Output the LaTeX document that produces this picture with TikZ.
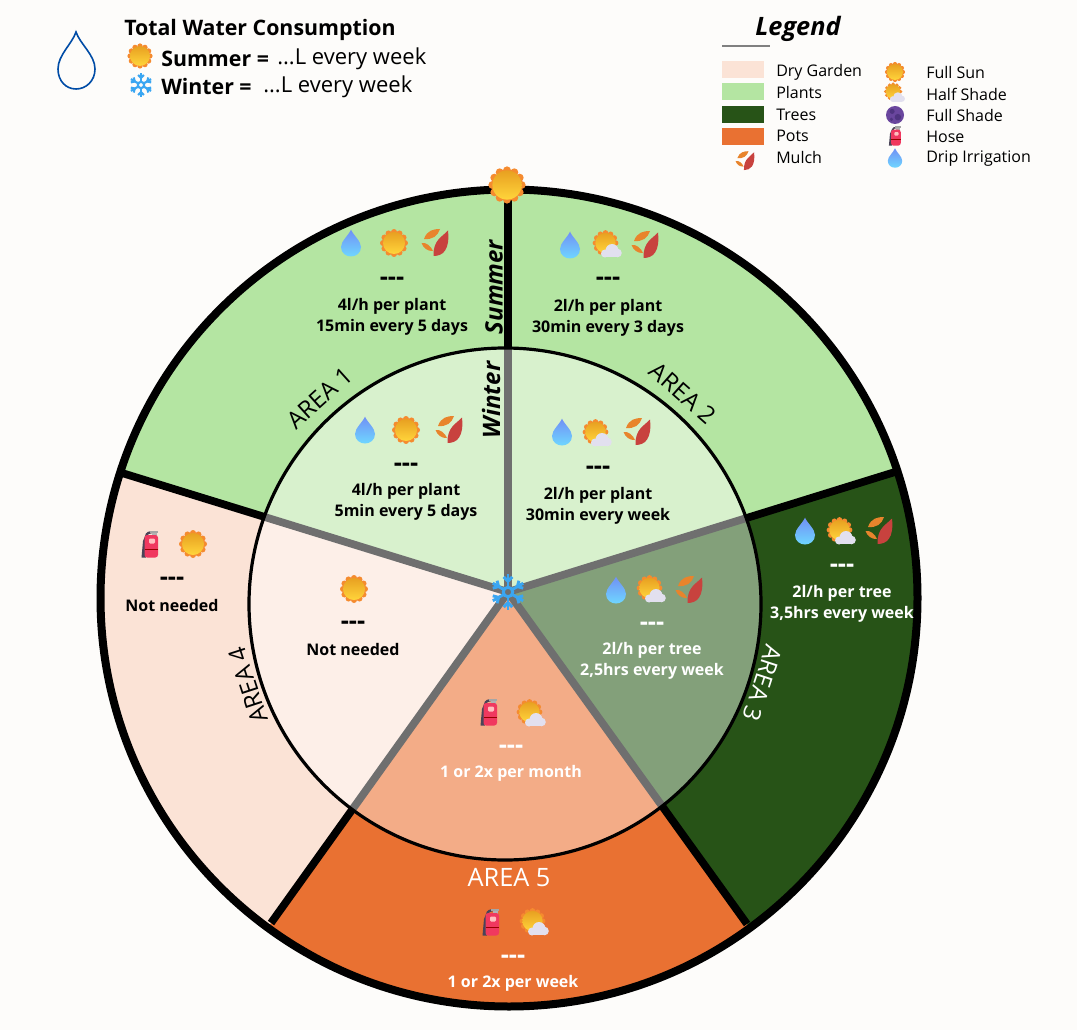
\documentclass[tikz,border=0pt]{standalone}
\usepackage{fontspec}
\setmainfont{Open Sans}
\definecolor{bgc}{HTML}{FDFCFA}
\definecolor{dry}{HTML}{FBE3D6}
\definecolor{plant}{HTML}{B4E5A2}
\definecolor{tree}{HTML}{275317}
\definecolor{pot}{HTML}{E97132}
\definecolor{dryin}{HTML}{FDEFE8}
\definecolor{plantin}{HTML}{D8F1CD}
\definecolor{treein}{HTML}{83A07A}
\definecolor{potin}{HTML}{F3AC87}
\definecolor{spokegrey}{HTML}{6F6F6F}
\definecolor{sunlobe}{HTML}{F58B2F}
\definecolor{suntop}{HTML}{FFD53B}
\definecolor{sunbot}{HTML}{E8A021}
\definecolor{flake}{HTML}{3AA6F2}
\definecolor{droptop}{HTML}{6FD6FF}
\definecolor{dropbot}{HTML}{7090F5}
\definecolor{cloudc}{HTML}{E2E0EF}
\definecolor{leafred}{HTML}{C8423E}
\definecolor{leaforange}{HTML}{E8842C}
\definecolor{hosered}{HTML}{F0385F}
\definecolor{hosedark}{HTML}{4A4458}
\definecolor{moon}{HTML}{6A469E}
\definecolor{moondark}{HTML}{4F3480}
\tikzset{
  info/.style={font=\fontsize{12}{14}\selectfont\bfseries,inner sep=0pt,align=center},
  dash3/.style={font=\fontsize{19}{19}\selectfont\bfseries,inner sep=0pt},
  arealabel/.style={font=\fontsize{18}{20}\selectfont,inner sep=0pt},
  seasonlabel/.style={font=\fontsize{18}{20}\selectfont\bfseries\itshape,inner sep=0pt,rotate=90},
  legendtext/.style={font=\fontsize{12}{14}\selectfont,inner sep=0pt,anchor=west},
  swatch/.style={draw=none,minimum width=31pt,minimum height=13pt,inner sep=0pt,anchor=west},
  headtext/.style={font=\fontsize{16.5}{18}\selectfont,inner sep=0pt,anchor=west},
  headbold/.style={font=\fontsize{16}{18}\selectfont\bfseries,inner sep=0pt,anchor=west},
  blackspoke/.style={line width=5.8pt,black},
  greyspoke/.style={line width=5.8pt,spokegrey},
  sunicon/.pic={
    \foreach \a in {0,30,...,330}{\fill[sunlobe] (\a:11) circle[radius=3];}
    \shade[top color=sunbot,bottom color=suntop] (0,0) circle[radius=11];
  },
  halficon/.pic={
    \begin{scope}[shift={(-2.5,-2)},scale=.92]
    \foreach \a in {0,30,...,330}{\fill[sunlobe] (\a:11) circle[radius=3];}
    \shade[top color=sunbot,bottom color=suntop] (0,0) circle[radius=11];
    \end{scope}
    \fill[cloudc] (-3,8.5) circle[radius=4];
    \fill[cloudc] (4,5.5) circle[radius=6.5];
    \fill[cloudc] (9.5,8) circle[radius=4.3];
    \fill[cloudc] (-3,8.5) rectangle (9.5,12.3);
  },
  shadeicon/.pic={
    \fill[moon] (0,0) circle[radius=12.5];
    \fill[moondark] (-4,-5) circle[radius=3.5];
    \fill[moondark] (4,3) circle[radius=4.5];
    \fill[moondark] (-5,6) circle[radius=2.5];
  },
  dropicon/.pic={
    \shade[top color=dropbot,bottom color=droptop]
      (0,-13.5) .. controls (2,-8) and (10,-2) .. (10,4) .. controls (10,10) and (5,13.5) .. (0,13.5)
      .. controls (-5,13.5) and (-10,10) .. (-10,4) .. controls (-10,-2) and (-2,-8) .. (0,-13.5) -- cycle;
  },
  mulchicon/.pic={
    \fill[leafred] (13,-12.5) .. controls (7,-6) and (-2,-3) .. (-1.5,13) .. controls (8,13) and (15,7) .. (13,-12.5) -- cycle;
    \fill[leaforange] (-11,-4) .. controls (-8,-13) and (-1,-14) .. (5,-14) .. controls (3,-7) and (-3,-3) .. (-11,-4) -- cycle;
    \fill[leaforange] (-13.5,0) .. controls (-9,-1) and (-4,3) .. (-2,8) .. controls (-7,8.5) and (-12,5) .. (-13.5,0) -- cycle;
  },
  hoseicon/.pic={
    \fill[hosedark] (-8.5,13.5) -- (-4,13.5) -- (-4,-5) -- (-5,-8) -- (-7,-3) -- cycle;
    \fill[hosedark] (-5,-8) .. controls (-4.5,-12) and (-1,-13) .. (3,-13) -- (3,-11) .. controls (0,-11) and (-3,-10) .. (-3,-6) -- cycle;
    \fill[gray!70!white] (0,-13.5) rectangle (8,-11);
    \fill[gray!60!white] (2,-11) rectangle (7,-8);
    \fill[hosered,rounded corners=2pt] (-5.5,-9) rectangle (8,13.5);
    \fill[red!25!white,rounded corners=.8pt] (-1,-5.5) rectangle (5,-.5);
    \fill[red!60!black] (-5.5,4.5) rectangle (8,5.5);
  },
  flakeicon/.pic={
    \foreach \a in {30,90,...,330}{
      \draw[flake] (\a:3.5) -- (\a:13);
      \draw[flake] (\a:8) -- +(\a+45:4.5);
      \draw[flake] (\a:8) -- +(\a-45:4.5);
    }
    \draw[flake] (0,0) circle[radius=3.5];
  }
}
\begin{document}
\begin{tikzpicture}[x=0.75pt,y=-0.75pt]
\fill[bgc] (0,0) rectangle (1077,1030);
\useasboundingbox (0,0) rectangle (1077,1030);
% geometry
\coordinate (hub) at (508,592);
\coordinate (outerc) at (509,598);
\coordinate (innerc) at (505,604);
\coordinate (top) at (508,190);
\coordinate (jA) at (122,473);
\coordinate (jB) at (271,923);
\coordinate (jC) at (747,924);
\coordinate (jD) at (895,472);
\coordinate (iTop) at (508,348);
% outer sectors
\begin{scope}
\clip (outerc) circle[radius=408.5];
\fill[plant] (hub) -- (508,100) -- (-100,100) -- (-100,400) -- (jA) -- cycle;
\fill[plant] (hub) -- (508,100) -- (1200,100) -- (1200,374) -- (jD) -- cycle;
\fill[dry] (hub) -- (jA) -- (-100,400) -- (-100,1100) -- (200,1021) -- (jB) -- cycle;
\fill[pot] (hub) -- (jB) -- (200,1021) -- (200,1100) -- (810,1100) -- (810,1021) -- (jC) -- cycle;
\fill[tree] (hub) -- (jC) -- (810,1021) -- (1200,1100) -- (1200,374) -- (jD) -- cycle;
\end{scope}
\draw[blackspoke] (hub) -- (top);
\draw[blackspoke] (hub) -- (jA);
\draw[blackspoke] (hub) -- (jB);
\draw[blackspoke] (hub) -- (jC);
\draw[blackspoke] (hub) -- (jD);
% inner sectors
\begin{scope}
\clip (innerc) circle[radius=256];
\fill[plantin] (hub) -- (508,100) -- (-100,100) -- (-100,400) -- (jA) -- cycle;
\fill[plantin] (hub) -- (508,100) -- (1200,100) -- (1200,374) -- (jD) -- cycle;
\fill[dryin] (hub) -- (jA) -- (-100,400) -- (-100,1100) -- (200,1021) -- (jB) -- cycle;
\fill[potin] (hub) -- (jB) -- (200,1021) -- (200,1100) -- (810,1100) -- (810,1021) -- (jC) -- cycle;
\fill[treein] (hub) -- (jC) -- (810,1021) -- (1200,1100) -- (1200,374) -- (jD) -- cycle;
\draw[greyspoke] (hub) -- (iTop);
\draw[greyspoke] (hub) -- (jA);
\draw[greyspoke] (hub) -- (jB);
\draw[greyspoke] (hub) -- (jC);
\draw[greyspoke] (hub) -- (jD);
\end{scope}
\draw[black,line width=2.4pt] (innerc) circle[radius=256];
\draw[black,line width=6pt] (outerc) circle[radius=408.5];
\pic at (507,185) [scale=1.33] {sunicon};
\pic at (508,592) [scale=1.35,line width=2.2pt] {flakeicon};
% header
\draw[color=blue!50!black!70!cyan,line width=1.2pt] (76,32) .. controls (80,44) and (95,55) .. (95,69) .. controls (95,81) and (86,89) .. (76,89) .. controls (66,89) and (58,81) .. (58,69) .. controls (58,55) and (72,44) .. (76,32) -- cycle;
\node[headbold] (title) at (124,29.5) {Total Water Consumption};
\pic at (140,56) [scale=.9] {sunicon};
\pic at (141,85) [scale=.9,line width=1.6pt] {flakeicon};
\node[headbold] (summer) at (161,58.5) {Summer =};
\node[headtext] (summerv) at (277,58.5) {...L every week};
\node[headbold] (winter) at (161,86.5) {Winter =};
\node[headtext] (winterv) at (263,86.5) {...L every week};
% legend
\node[font=\fontsize{19}{20}\selectfont\bfseries\itshape,inner sep=0pt] (legend) at (798,29) {Legend};
\coordinate (legL) at (722,46);
\coordinate (legR) at (770,46);
\draw[gray,line width=2.2pt] (legL) -- (legR);
\node[swatch,fill=dry] (s1) at (722,69.5) {};
\node[swatch,fill=plant] (s2) at (722,91.5) {};
\node[swatch,fill=tree] (s3) at (722,114.5) {};
\node[swatch,fill=pot] (s4) at (722,136.5) {};
\pic at (745,161) [scale=.7] {mulchicon};
\node[legendtext] (l1) at (776,72) {Dry Garden};
\node[legendtext] (l2) at (776,93) {Plants};
\node[legendtext] (l3) at (776,115) {Trees};
\node[legendtext] (l4) at (776,136) {Pots};
\node[legendtext] (l5) at (776,158) {Mulch};
\pic at (895,72) [scale=.72] {sunicon};
\pic at (895,93) [scale=.72] {halficon};
\pic at (895,115) [scale=.72] {shadeicon};
\pic at (895,136) [scale=.72] {hoseicon};
\pic at (895,158) [scale=.72] {dropicon};
\node[legendtext] (r1) at (926,73) {Full Sun};
\node[legendtext] (r2) at (926,94) {Half Shade};
\node[legendtext] (r3) at (926,116) {Full Shade};
\node[legendtext] (r4) at (926,137) {Hose};
\node[legendtext] (r5) at (926,159) {Drip Irrigation};
% area labels
\node[arealabel,rotate=42] (a1) at (320,398) {AREA 1};
\node[arealabel,rotate=-41.5] (a2) at (683,393) {AREA 2};
\node[arealabel,rotate=-108,text=white] (a3) at (763,683) {AREA 3};
\node[arealabel,rotate=108] (a4) at (248,685) {AREA 4};
\node[arealabel,text=white,font=\fontsize{19}{20}\selectfont] (a5) at (509,878) {AREA 5};
\node[seasonlabel] (sum) at (494,287) {Summer};
\node[seasonlabel] (win) at (491,400) {Winter};
% area 1 outer
\pic at (351,243) {dropicon}; \pic at (394,243) {sunicon}; \pic at (435,243) {mulchicon};
\node[dash3] (d1) at (392,281) {-{}-{}-};
\node[info] (t1) at (392,317) {4l/h per plant\\[2pt]15min every 5 days};
% area 2 outer
\pic at (570,245) {dropicon}; \pic at (608,245) {halficon}; \pic at (645,245) {mulchicon};
\node[dash3] (d2) at (608,281) {-{}-{}-};
\node[info] (t2) at (608,318) {2l/h per plant\\[2pt]30min every 3 days};
% area 1 inner
\pic at (365,430) {dropicon}; \pic at (406,430) {sunicon}; \pic at (449,430) {mulchicon};
\node[dash3] (d3) at (406,467) {-{}-{}-};
\node[info] (t3) at (406,502) {4l/h per plant\\[2pt]5min every 5 days};
% area 2 inner
\pic at (562,432) {dropicon}; \pic at (598,434) {halficon}; \pic at (637,432) {mulchicon};
\node[dash3] (d4) at (598,470) {-{}-{}-};
\node[info] (t4) at (598,506) {2l/h per plant\\[2pt]30min every week};
% area 3 outer
\pic at (805,531) {dropicon}; \pic at (842,532) {halficon}; \pic at (879,531) {mulchicon};
\node[dash3,text=white] (d5) at (842,568) {-{}-{}-};
\node[info,text=white] (t5) at (842,604) {2l/h per tree\\[2pt]3,5hrs every week};
% area 3 inner
\pic at (616,590) {dropicon}; \pic at (652,590) {halficon}; \pic at (689,590) {mulchicon};
\node[dash3,text=white] (d6) at (652,626) {-{}-{}-};
\node[info,text=white] (t6) at (652,661) {2l/h per tree\\[2pt]2,5hrs every week};
% area 4 outer
\pic at (150,544) {hoseicon}; \pic at (193,544) {sunicon};
\node[dash3] (d7) at (172,581) {-{}-{}-};
\node[info] (t7) at (172,605) {Not needed};
% area 4 inner
\pic at (354,589) {sunicon};
\node[dash3] (d8) at (353,625) {-{}-{}-};
\node[info] (t8) at (353,649) {Not needed};
% area 5 inner
\pic at (489,712) {hoseicon}; \pic at (532,714) {halficon};
\node[dash3,text=white] (d9) at (511,749) {-{}-{}-};
\node[info,text=white] (t9) at (511,773) {1 or 2x per month};
% area 5 outer
\pic at (491,922) {hoseicon}; \pic at (535,923) {halficon};
\node[dash3,text=white] (d10) at (513,959) {-{}-{}-};
\node[info,text=white] (t10) at (513,983) {1 or 2x per week};
\end{tikzpicture}
\end{document}
